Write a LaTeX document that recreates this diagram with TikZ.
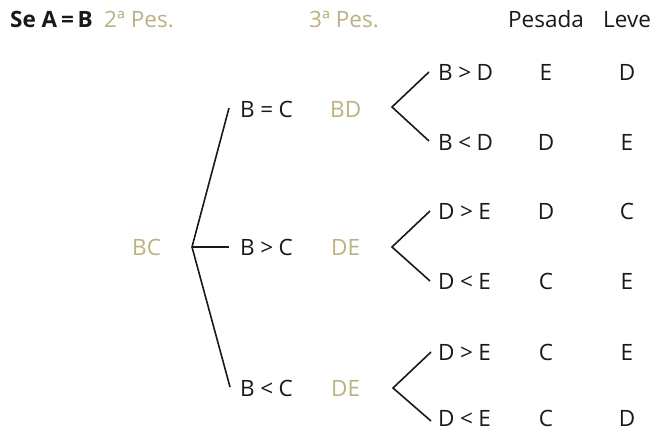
\documentclass[tikz,border=0pt]{standalone}
\usepackage{fontspec}
\setmainfont{Open Sans}
\definecolor{tan}{RGB}{186,178,128}
\definecolor{ink}{RGB}{25,25,25}
\newcommand{\rel}[3]{#1\hspace{5.5pt}#2\hspace{5.5pt}#3}
\begin{document}
\begin{tikzpicture}[x=1pt,y=-1pt,
  lbl/.style={font=\fontsize{22.5}{24}\selectfont, text=ink, inner sep=0pt, anchor=base west},
  hl/.style={lbl, text=tan},
  col/.style={font=\fontsize{22.5}{24}\selectfont, text=ink, inner sep=0pt, anchor=base},
  branch/.style={draw=ink, line width=1.6pt}]
\useasboundingbox (0,0) rectangle (651,430);
% header
\node[lbl, font=\fontsize{22.5}{24}\selectfont\bfseries] (h1) at (10,28) {Se A\,=\,B};
\node[hl] (h2) at (104,28) {2ª Pes.};
\node[hl] (h3) at (309,28) {3ª Pes.};
\node[lbl] (h4) at (508,28) {Pesada};
\node[lbl] (h5) at (603,28) {Leve};
% first level
\node[hl] (bc) at (132,256) {BC};
\coordinate (r) at (192,247);
\coordinate (r1) at (229,108);
\coordinate (r2) at (229,247);
\coordinate (r3) at (230,387);
\draw[branch] (r1) -- (r) -- (r3);
\draw[branch] (r) -- (r2);
\node[lbl] (b1) at (240,118) {\rel{B}{=}{C}};
\node[lbl] (b2) at (240,256) {\rel{B}{>}{C}};
\node[lbl] (b3) at (240,397) {\rel{B}{<}{C}};
\node[hl] (w1) at (330,118) {BD};
\node[hl] (w2) at (331,256) {DE};
\node[hl] (w3) at (331,397) {DE};
% second level forks
\coordinate (a1) at (392,107); \coordinate (a1u) at (429,72); \coordinate (a1d) at (429,141);
\coordinate (a2) at (392,247); \coordinate (a2u) at (430,211); \coordinate (a2d) at (430,281);
\coordinate (a3) at (393,388); \coordinate (a3u) at (431,352); \coordinate (a3d) at (431,421);
\draw[branch] (a1u) -- (a1) -- (a1d);
\draw[branch] (a2u) -- (a2) -- (a2d);
\draw[branch] (a3u) -- (a3) -- (a3d);
% outcomes
\node[lbl] (o1) at (438,81) {\rel{B}{>}{D}};
\node[lbl] (o2) at (438,151) {\rel{B}{<}{D}};
\node[lbl] (o3) at (438,220) {\rel{D}{>}{E}};
\node[lbl] (o4) at (438,290) {\rel{D}{<}{E}};
\node[lbl] (o5) at (438,361) {\rel{D}{>}{E}};
\node[lbl] (o6) at (438,426) {\rel{D}{<}{E}};
\node[col] (p1) at (546,81) {E};  \node[col] (l1) at (627,81) {D};
\node[col] (p2) at (546,151) {D}; \node[col] (l2) at (627,151) {E};
\node[col] (p3) at (546,220) {D}; \node[col] (l3) at (627,220) {C};
\node[col] (p4) at (546,290) {C}; \node[col] (l4) at (627,290) {E};
\node[col] (p5) at (546,361) {C}; \node[col] (l5) at (627,361) {E};
\node[col] (p6) at (546,426) {C}; \node[col] (l6) at (627,426) {D};
\end{tikzpicture}
\end{document}
